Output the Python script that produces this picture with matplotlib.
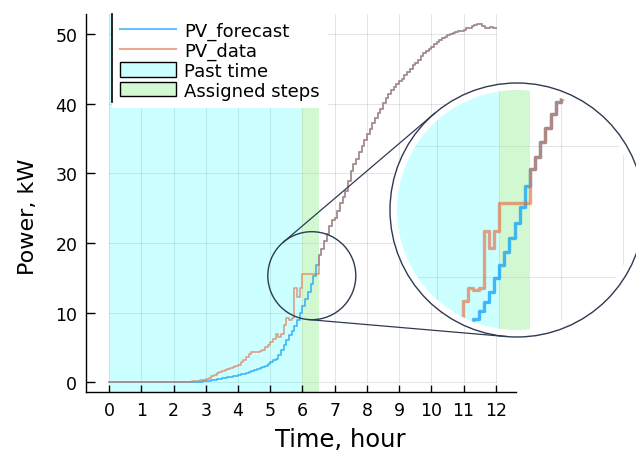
import matplotlib.pyplot as plt
import numpy as np
from matplotlib.patches import Circle, Patch
from matplotlib.lines import Line2D

# 5-minute PV power samples from 0 to 12 h, kW
pv_data = [0.0] * 28 + [
    0.02, 0.05, 0.08, 0.12, 0.17, 0.23, 0.30, 0.38, 0.50, 0.68,
    0.88, 1.08, 1.28, 1.45, 1.60, 1.75, 1.90, 2.05, 2.20, 2.35,
    2.55, 2.85, 3.20, 3.60, 4.00, 4.30, 4.30, 4.40, 4.45, 4.70,
    5.00, 5.40, 5.75, 6.20, 6.90, 6.50, 7.00, 8.20, 9.20, 9.00,
    9.20, 13.5, 12.2, 13.5, 15.6, 15.6, 15.6, 15.6, 15.6, 15.6,
    18.2, 19.1, 20.3, 21.3, 22.4, 23.3, 23.6, 24.6, 25.8, 26.6,
    27.5, 28.9, 30.3, 31.3, 32.1, 33.0, 33.9, 34.8, 35.6, 36.4,
    37.2, 38.0, 38.6, 39.3, 40.1, 40.8, 41.4, 42.0, 42.4, 42.8,
    43.2, 43.6, 44.1, 44.5, 45.0, 45.5, 45.9, 46.3, 46.8, 47.2,
    47.5, 47.9, 48.2, 48.5, 48.9, 49.2, 49.4, 49.6, 49.8, 50.0,
    50.1, 50.3, 50.4, 50.5, 50.6, 50.8, 50.9, 51.1, 51.3, 51.4,
    51.4, 51.1, 50.8, 50.9, 51.0, 50.8, 50.8,
]

# forecast up to the end of the assigned steps, measured data afterwards
pv_forecast = [0.0] * 31 + [
    0.02, 0.04, 0.07, 0.10, 0.14, 0.19, 0.24, 0.30, 0.36, 0.42,
    0.48, 0.55, 0.62, 0.70, 0.78, 0.86, 0.95, 1.05, 1.15, 1.25,
    1.37, 1.50, 1.62, 1.75, 1.90, 2.05, 2.20, 2.40, 2.62, 2.87,
    3.15, 3.40, 3.90, 4.60, 5.30, 6.00, 6.80, 7.40, 8.10, 8.90,
    9.90, 10.9, 11.9, 13.0, 14.1, 15.3, 16.9,
]

step_minutes = 5
past_end = 6.0
assigned_end = 6.5
x_ticks = list(range(0, 13))
y_ticks = [0, 10, 20, 30, 40, 50]

time_h = np.arange(len(pv_data)) * step_minutes / 60
forecast = np.array(pv_forecast + pv_data[len(pv_forecast):])

blue = "#009afa"
orange = "#e26f46"
ring = "#2e3a52"

W, H = 636, 452
fig = plt.figure(figsize=(W / 100, H / 100), dpi=100)
ax = fig.add_axes([85.7 / W, 1 - 393.3 / H, (516 - 85.7) / W, (393.3 - 15) / H])
ax.set_xlim(-0.73, 12.63)
ax.set_ylim(-1.44, 52.87)


def draw_content(a, lw, grid_x, grid_y, x_span, y_span):
    for gx in grid_x:
        a.plot([gx, gx], y_span, color="black", alpha=0.1, lw=0.8, zorder=0.5)
    for gy in grid_y:
        a.plot(x_span, [gy, gy], color="black", alpha=0.1, lw=0.8, zorder=0.5)
    a.axvspan(0, past_end, color="cyan", alpha=0.2, lw=0)
    a.axvspan(past_end, assigned_end, color="lightgreen", alpha=0.4, lw=0)
    a.plot(time_h, forecast, drawstyle="steps-post", color=blue, alpha=0.7, lw=lw)
    a.plot(time_h, pv_data, drawstyle="steps-post", color=orange, alpha=0.65, lw=lw)


draw_content(ax, 1.2, x_ticks, y_ticks, [0, 12], [0, 52.87])

for side in ["top", "right"]:
    ax.spines[side].set_visible(False)
ax.spines["left"].set_linewidth(1.0)
ax.spines["bottom"].set_linewidth(1.0)
ax.set_xticks(x_ticks)
ax.set_yticks(y_ticks)
ax.tick_params(axis="both", direction="in", labelsize=12.5, pad=6, width=1.0)
ax.tick_params(axis="y", length=6.5)
ax.tick_params(axis="x", length=5)

ax.set_xlabel("Time, hour", fontsize=17.5)
ax.xaxis.set_label_coords(0.591, -0.123)
ax.xaxis.label.set_va("center")
ax.set_ylabel("Power, kW", fontsize=16)
ax.yaxis.set_label_coords(-0.134, 0.466)
ax.yaxis.label.set_va("center")

handles = [
    Line2D([], [], color=blue, alpha=0.6, lw=1.5),
    Line2D([], [], color=orange, alpha=0.6, lw=1.5),
    Patch(facecolor="#ccffff", edgecolor="black", lw=1),
    Patch(facecolor="#d3f8d3", edgecolor="black", lw=1),
]
labels = ["PV_forecast", "PV_data", "Past time", "Assigned steps"]
leg = ax.legend(handles, labels, loc="upper left", bbox_to_anchor=(0.061, 1.0),
                fontsize=13, frameon=True, facecolor="white", edgecolor="none",
                framealpha=1, fancybox=False, borderpad=0.45, labelspacing=0.09,
                handlelength=3.1, handleheight=0.85, handletextpad=0.45,
                borderaxespad=0)
leg.set_zorder(5)
fig.add_artist(Line2D([112.3 / W, 112.3 / W], [1 - 15 / H, 1 - 103 / H],
                      color="black", lw=1.2))

# magnified view around the assigned steps
lens_h, lens_kw = 6.29, 15.3
big_c = (517.0, H - 211.0)
big_r, clip_r = 127.0, 120.0
px_h, px_kw = 61.7, 13.16
ax_in = fig.add_axes([(big_c[0] - big_r) / W, (big_c[1] - big_r) / H,
                      2 * big_r / W, 2 * big_r / H])
ax_in.set_xlim(lens_h - big_r / px_h, lens_h + big_r / px_h)
ax_in.set_ylim(lens_kw - 0.2 - big_r / px_kw, lens_kw - 0.2 + big_r / px_kw)
ax_in.axis("off")
draw_content(ax_in, 2.4, x_ticks, y_ticks, [0, 12], [0, 60])

inch = fig.dpi_scale_trans
clip = Circle((big_c[0] / 100, big_c[1] / 100), clip_r / 100, transform=inch)
for art in ax_in.lines + ax_in.patches:
    art.set_clip_path(clip)
ax_in.add_patch(Circle((big_c[0] / 100, big_c[1] / 100), big_r / 100,
                       transform=inch, facecolor="white", edgecolor=ring,
                       lw=1.0, zorder=0, clip_on=False))

# small circle on the main plot and tangent lines to the big one
small_c = ax.transData.transform((lens_h, lens_kw))
small_r = 44.0
ax.add_patch(Circle((small_c[0] / 100, small_c[1] / 100), small_r / 100,
                    transform=inch, fill=False, edgecolor=ring, lw=1.0,
                    zorder=6, clip_on=False))
d = np.array(big_c) - small_c
dist = np.hypot(*d)
u = d / dist
u_perp = np.array([-u[1], u[0]])
a = (small_r - big_r) / dist
b = np.sqrt(1 - a * a)
for sgn in (1, -1):
    n = a * u + sgn * b * u_perp
    p1 = small_c + small_r * n
    p2 = np.array(big_c) + big_r * n
    fig.add_artist(Line2D([p1[0] / 100, p2[0] / 100], [p1[1] / 100, p2[1] / 100],
                          transform=inch, color=ring, lw=0.9))

fig.savefig("out.png", dpi=100)
